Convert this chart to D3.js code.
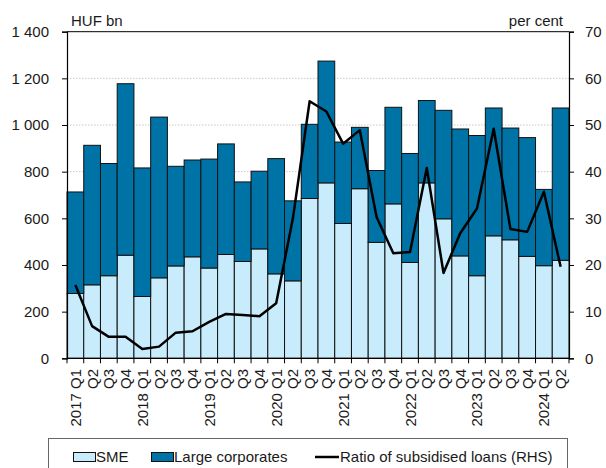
<!DOCTYPE html>
<html>
<head>
<meta charset="utf-8">
<script src="https://cdn.jsdelivr.net/npm/d3@7"></script>
<style>
  body { margin: 0; background: #fff; }
  text { font-family: "Liberation Sans", Arial, sans-serif; fill: #1a1a1a; }
</style>
</head>
<body>
<div id="main"></div>
<script>
// quarters 2017 Q1 .. 2024 Q2
const years = [2017, 2018, 2019, 2020, 2021, 2022, 2023, 2024];
const quarters = [];
years.forEach(y => ['Q1', 'Q2', 'Q3', 'Q4'].forEach(q => {
    if (!(y === 2024 && (q === 'Q3' || q === 'Q4'))) quarters.push(y + ' ' + q);
}));

// HUF bn
const sme = [278, 315, 354, 442, 265, 345, 396, 435, 387, 445, 415, 469, 362, 332, 685,
             752, 578, 727, 497, 662, 411, 752, 598, 439, 354, 525, 508, 437, 397, 420];
const total = [713, 913, 835, 1177, 816, 1034, 823, 850, 854, 919, 756, 802, 856, 675, 1003,
               1274, 927, 990, 805, 1076, 878, 1105, 1063, 983, 955, 1073, 987, 946, 724, 1073];
const large = total.map((t, i) => t - sme[i]);
// per cent (RHS)
const ratio = [15.7, 6.9, 4.6, 4.6, 2.0, 2.5, 5.5, 5.8, 7.8, 9.5, 9.3, 9.0, 11.8, 30.0, 55.1,
               52.9, 46.0, 48.9, 30.3, 22.5, 22.8, 40.8, 18.3, 26.8, 32.1, 49.2, 27.7, 27.1, 35.7, 19.6];

const leftTicks = [0, 200, 400, 600, 800, 1000, 1200, 1400];
const rightTicks = [0, 10, 20, 30, 40, 50, 60, 70];

const colSME = '#c9ecfc', colLarge = '#0073a6';
const width = 606, height = 468;
const mLeft = 67, mRight = 569, mTop = 31.7, mBottom = 358.3;
const fs = '15px';

const svg = d3.select('#main').append('svg')
    .attr('width', width).attr('height', height);

const x = d3.scaleBand().domain(quarters).range([mLeft, mRight]).padding(0);
const y = d3.scaleLinear().domain([0, 1400]).range([mBottom, mTop]);
const y2 = d3.scaleLinear().domain([0, 70]).range([mBottom, mTop]);

// gridlines
svg.append('g').selectAll('line')
    .data(leftTicks.filter(d => d > 0 && d < 1400))
    .enter().append('line')
        .attr('x1', mLeft).attr('x2', mRight)
        .attr('y1', d => y(d)).attr('y2', d => y(d))
        .attr('stroke', '#c8c8c8').attr('stroke-dasharray', '1.5,1.5');

// stacked bars
const stack = d3.stack().keys(['sme', 'large'])(quarters.map((q, i) => ({ q: q, sme: sme[i], large: large[i] })));
const colors = { sme: colSME, large: colLarge };
svg.append('g').selectAll('g')
    .data(stack)
    .enter().append('g')
        .attr('fill', d => colors[d.key])
    .selectAll('rect')
    .data(d => d)
    .enter().append('rect')
        .attr('x', d => x(d.data.q))
        .attr('width', x.bandwidth())
        .attr('y', d => y(d[1]))
        .attr('height', d => y(d[0]) - y(d[1]))
        .attr('stroke', '#111').attr('stroke-width', 1);

// ratio line
const line = d3.line()
    .x((d, i) => x(quarters[i]) + x.bandwidth() / 2)
    .y(d => y2(d));
svg.append('path').datum(ratio)
    .attr('d', line)
    .attr('fill', 'none').attr('stroke', '#000').attr('stroke-width', 2.5)
    .attr('stroke-linejoin', 'round');

// frame top
svg.append('line').attr('x1', mLeft).attr('x2', mRight).attr('y1', mTop).attr('y2', mTop)
    .attr('stroke', '#000').attr('stroke-width', 1);

// axes
const yAxisL = svg.append('g').attr('transform', `translate(${mLeft},0)`)
    .call(d3.axisLeft(y).tickValues(leftTicks).tickSize(5).tickPadding(13)
        .tickFormat(d => d3.format(',')(d).replace(',', ' ')));
const yAxisR = svg.append('g').attr('transform', `translate(${mRight},0)`)
    .call(d3.axisRight(y2).tickValues(rightTicks).tickSize(5).tickPadding(11));
const xAxis = svg.append('g').attr('transform', `translate(0,${mBottom})`)
    .call(d3.axisBottom(x).tickSize(0).tickFormat(''));
[yAxisL, yAxisR, xAxis].forEach(g => {
    g.select('.domain').attr('stroke', '#000').attr('stroke-width', 1.2);
    g.selectAll('.tick line').attr('stroke', '#000');
    g.selectAll('text').style('font-size', fs).attr('fill', '#1a1a1a')
        .style('font-family', '"Liberation Sans", Arial, sans-serif');
});
xAxis.select('.domain').attr('d', `M${mLeft},0H${mRight}`);

// x ticks at band boundaries
svg.append('g').selectAll('line')
    .data(quarters.concat(['end']))
    .enter().append('line')
        .attr('x1', (d, i) => mLeft + i * x.step()).attr('x2', (d, i) => mLeft + i * x.step())
        .attr('y1', mBottom).attr('y2', mBottom + 5)
        .attr('stroke', '#000');

// x labels, rotated
svg.append('g').selectAll('text')
    .data(quarters)
    .enter().append('text')
        .attr('transform', d => `translate(${x(d) + x.bandwidth() / 2 + 5.5},369) rotate(-90)`)
        .attr('text-anchor', 'end')
        .style('font-size', fs)
        .text(d => d.endsWith('Q1') ? d : d.split(' ')[1]);

// unit labels
svg.append('text').attr('x', 71).attr('y', 25.5).style('font-size', fs).text('HUF bn');
svg.append('text').attr('x', 563).attr('y', 25.5).attr('text-anchor', 'end').style('font-size', fs).text('per cent');

// legend
svg.append('rect').attr('x', 48.5).attr('y', 438.5).attr('width', 519).attr('height', 40)
    .attr('fill', '#fff').attr('stroke', '#666');
const lg = svg.append('g');
lg.append('rect').attr('x', 73.5).attr('y', 452.5).attr('width', 22).attr('height', 9)
    .attr('fill', colSME).attr('stroke', '#111');
lg.append('text').attr('x', 96).attr('y', 462).style('font-size', fs).text('SME');
lg.append('rect').attr('x', 151.5).attr('y', 452.5).attr('width', 22).attr('height', 9)
    .attr('fill', colLarge).attr('stroke', '#111');
lg.append('text').attr('x', 174).attr('y', 462).style('font-size', fs).text('Large corporates');
lg.append('line').attr('x1', 315).attr('x2', 339).attr('y1', 457).attr('y2', 457)
    .attr('stroke', '#000').attr('stroke-width', 2.5);
lg.append('text').attr('x', 340).attr('y', 462).style('font-size', fs).text('Ratio of subsidised loans (RHS)');
</script>
</body>
</html>
